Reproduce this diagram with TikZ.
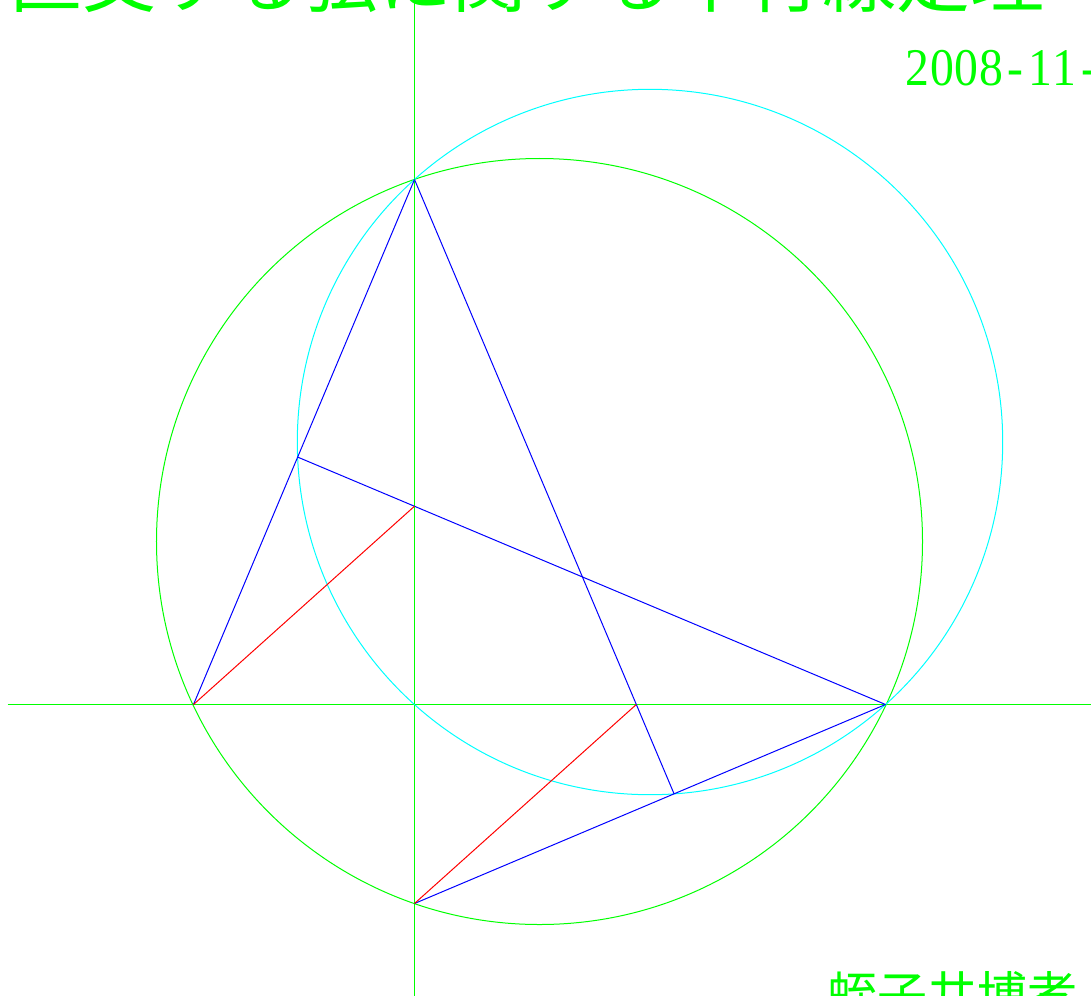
\documentclass[tikz,border=0pt]{standalone}
\usepackage{fontspec}
\usetikzlibrary{calc}
\newfontfamily\jfont{Noto Sans CJK JP}
\newfontfamily\datefont[FakeStretch=0.9]{Liberation Serif}
\newcommand\hw[1]{\makebox[24.5bp]{#1}}
\definecolor{pgreen}{RGB}{0,255,0}
\definecolor{pcyan}{RGB}{0,255,255}
\definecolor{pblue}{RGB}{0,0,255}
\definecolor{pred}{RGB}{255,0,0}
\begin{document}
\begin{tikzpicture}[x=1bp,y=-1bp,line width=1bp,
  axisline/.style={draw=pgreen},
  greencirc/.style={draw=pgreen},
  cyancirc/.style={draw=pcyan},
  blueline/.style={draw=pblue},
  redline/.style={draw=pred},
  label/.style={text=pgreen,inner sep=0pt,anchor=base west}]
\useasboundingbox (0,0) rectangle (1091,996);
\begin{scope}[shift={(0.5,-0.5)}]
% axes
\coordinate (XL) at (7,705);
\coordinate (XR) at (1095,705);
\coordinate (YT) at (414,-5);
\coordinate (YB) at (414,1000);
\draw[axisline] (XL) -- (XR);
\draw[axisline] (YT) -- (YB);
% chord end points
\coordinate (P) at (414,705);
\coordinate (A) at (193,705);
\coordinate (C) at (885,705);
\coordinate (B) at (414,180);
\coordinate (D) at (414,904);
\coordinate (O) at (539,542);
\coordinate (M) at ($(B)!0.5!(C)$);
\coordinate (H) at ($(A)!(C)!(B)$);
\coordinate (G) at ($(C)!(B)!(D)$);
\coordinate (E) at (414,506.7);
\coordinate (F) at (635.8,705);
% circles
\draw[greencirc] (O) circle[radius=383bp];
\draw[cyancirc] (M) circle[radius=352.7bp];
% blue lines
\draw[blueline] (B) -- (A);
\draw[blueline] (B) -- (G);
\draw[blueline] (C) -- (H);
\draw[blueline] (C) -- (D);
% red parallels
\draw[redline] (A) -- (E);
\draw[redline] (D) -- (F);
\end{scope}
% texts
\node[label,font={\jfont\fontsize{74bp}{74bp}\selectfont}] (title) at (8,6) {直交する弦に関する平行線定理};
\node[label,font={\datefont\fontsize{53bp}{53bp}\selectfont}] (date) at (905,85) {\hw{2}\hw{0}\hw{0}\hw{8}\hw{-}\hw{1}\hw{1}\hw{-}};
\node[label,font={\jfont\fontsize{50bp}{50bp}\selectfont}] (author) at (827,1013) {蛭子井博孝};
\end{tikzpicture}
\end{document}
